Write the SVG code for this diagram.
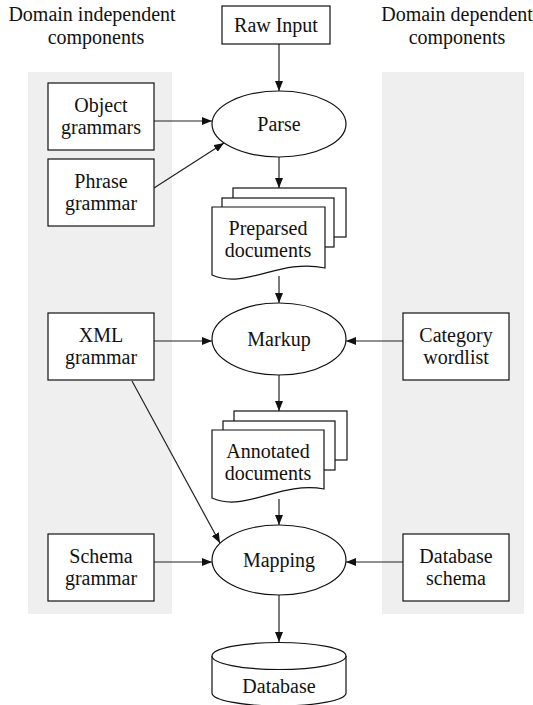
<svg xmlns="http://www.w3.org/2000/svg" width="533" height="705" viewBox="0 0 533 705">
  <style>
    text { font-family: "Liberation Serif", "Times New Roman", serif; font-size: 20px; fill: #111; text-anchor: middle; }
    .panel { fill: #efefef; stroke: none; }
    .shape { fill: #fff; stroke: #111; stroke-width: 1.2; }
    .edge { fill: none; stroke: #222; stroke-width: 1.2; marker-end: url(#arrow); }
  </style>
  <defs>
    <marker id="arrow" viewBox="0 0 10 8" refX="10" refY="4" markerWidth="10" markerHeight="8" markerUnits="userSpaceOnUse" orient="auto">
      <path d="M0,0 L10,4 L0,8 Z" fill="#111"/>
    </marker>
  </defs>

  <!-- background panels -->
  <rect class="panel" x="28" y="72" width="144" height="542"/>
  <rect class="panel" x="382" y="72" width="142" height="542"/>

  <!-- panel headings -->
  <g id="heading-independent">
    <text x="92" y="21">Domain independent</text>
    <text x="96" y="44">components</text>
  </g>
  <g id="heading-dependent">
    <text x="457" y="21">Domain dependent</text>
    <text x="457" y="44">components</text>
  </g>

  <!-- connectors -->
  <g id="connectors">
    <line class="edge" x1="279" y1="44" x2="279" y2="91"/>
    <line class="edge" x1="154" y1="121" x2="212" y2="121"/>
    <line class="edge" x1="154" y1="188" x2="224" y2="143"/>
    <line class="edge" x1="279" y1="157" x2="279" y2="188"/>
    <line class="edge" x1="279" y1="276" x2="279" y2="303"/>
    <line class="edge" x1="154" y1="341" x2="212" y2="341"/>
    <line class="edge" x1="403" y1="341" x2="346" y2="341"/>
    <line class="edge" x1="279" y1="375" x2="279" y2="411"/>
    <line class="edge" x1="279" y1="499" x2="279" y2="525"/>
    <line class="edge" x1="132" y1="381" x2="220" y2="543"/>
    <line class="edge" x1="154" y1="562" x2="212" y2="562"/>
    <line class="edge" x1="403" y1="562" x2="346" y2="562"/>
    <line class="edge" x1="279" y1="595" x2="279" y2="642"/>
  </g>

  <g id="raw-input">
    <rect class="shape" x="222" y="6" width="108" height="38"/>
    <text x="276" y="32">Raw Input</text>
  </g>

  <g id="parse">
    <ellipse class="shape" cx="279" cy="124" rx="67" ry="33"/>
    <text x="279" y="131">Parse</text>
  </g>

  <g id="object-grammars">
    <rect class="shape" x="48" y="83" width="106" height="67"/>
    <text x="101" y="112">Object</text>
    <text x="101" y="134">grammars</text>
  </g>

  <g id="phrase-grammar">
    <rect class="shape" x="48" y="159" width="106" height="67"/>
    <text x="101" y="188">Phrase</text>
    <text x="101" y="210">grammar</text>
  </g>

  <g id="preparsed-documents">
    <rect class="shape" x="233" y="188" width="113" height="49"/>
    <rect class="shape" x="222" y="198" width="112" height="49"/>
    <path class="shape" d="M212,207 H325 V268 C280,258 245,290 212,275 Z"/>
    <text x="268" y="235">Preparsed</text>
    <text x="268" y="257">documents</text>
  </g>

  <g id="markup">
    <ellipse class="shape" cx="279" cy="339" rx="67" ry="36"/>
    <text x="279" y="346">Markup</text>
  </g>

  <g id="xml-grammar">
    <rect class="shape" x="48" y="313" width="106" height="67"/>
    <text x="101" y="342">XML</text>
    <text x="101" y="364">grammar</text>
  </g>

  <g id="category-wordlist">
    <rect class="shape" x="403" y="313" width="106" height="67"/>
    <text x="456" y="342">Category</text>
    <text x="456" y="364">wordlist</text>
  </g>

  <g id="annotated-documents">
    <rect class="shape" x="234" y="411" width="113" height="49"/>
    <rect class="shape" x="223" y="421" width="112" height="49"/>
    <path class="shape" d="M212,430 H324 V489 C280,481 245,513 212,498 Z"/>
    <text x="268" y="458">Annotated</text>
    <text x="268" y="480">documents</text>
  </g>

  <g id="mapping">
    <ellipse class="shape" cx="279" cy="560" rx="67" ry="35"/>
    <text x="279" y="567">Mapping</text>
  </g>

  <g id="schema-grammar">
    <rect class="shape" x="48" y="534" width="106" height="67"/>
    <text x="101" y="563">Schema</text>
    <text x="101" y="585">grammar</text>
  </g>

  <g id="database-schema">
    <rect class="shape" x="403" y="534" width="106" height="67"/>
    <text x="456" y="563">Database</text>
    <text x="456" y="585">schema</text>
  </g>

  <g id="database">
    <path class="shape" d="M212,656 V693 A67,13 0 0 0 346,693 V656"/>
    <ellipse class="shape" cx="279" cy="656" rx="67" ry="13.5"/>
    <text x="279" y="693">Database</text>
  </g>
</svg>
